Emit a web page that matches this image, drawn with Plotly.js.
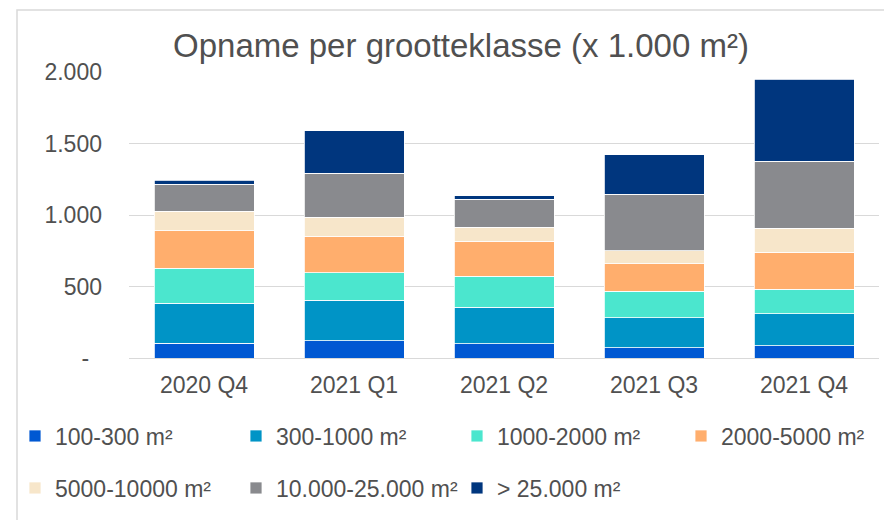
<!DOCTYPE html>
<html>
<head>
<meta charset="utf-8">
<script src="https://cdn.plot.ly/plotly-3.0.1.min.js"></script>
<style>
html,body{margin:0;padding:0;background:#fff;}
#chart{width:884px;height:520px;}
</style>
</head>
<body>
<div id="chart"></div>
<script>
var categories = ['2020 Q4', '2021 Q1', '2021 Q2', '2021 Q3', '2021 Q4'];
var seriesNames = ['100-300 m²', '300-1000 m²', '1000-2000 m²', '2000-5000 m²', '5000-10000 m²', '10.000-25.000 m²', '> 25.000 m²'];
var s100_300 = [103, 119, 98, 72, 84];
var s300_1000 = [279, 284, 256, 208, 224];
var s1000_2000 = [247, 193, 219, 186, 174];
var s2000_5000 = [261, 257, 242, 193, 259];
var s5000_10000 = [135, 130, 98, 91, 168];
var s10k_25k = [189, 310, 198, 396, 468];
var sOver25k = [28, 296, 24, 275, 571];
var yTickVals = [0, 500, 1000, 1500, 2000];
var yTickText = ['-\u00a0\u00a0', '500', '1.000', '1.500', '2.000'];

var seriesValues = [s100_300, s300_1000, s1000_2000, s2000_5000, s5000_10000, s10k_25k, sOver25k];
var colors = ['#0058D2', '#0094C6', '#4BE6CE', '#FFAE6D', '#F7E6CA', '#898A8E', '#00367E'];
var legendIds = ['legend', 'legend', 'legend', 'legend3', 'legend2', 'legend2', 'legend2'];
var font = '"Liberation Sans", Arial, sans-serif';
var textColor = '#505050';

var traces = seriesValues.map(function (vals, i) {
  return {
    type: 'bar',
    name: seriesNames[i],
    x: categories,
    y: vals,
    marker: {color: colors[i], line: {color: '#ffffff', width: 0.8}},
    legend: legendIds[i],
    hoverinfo: 'x+y+name'
  };
});

var plotL = 129, plotW = 750, plotB = 358, plotH = 286;
function px2x(p) { return (p - plotL) / plotW; }
function px2y(p) { return (plotB - p) / plotH; }

var legendCommon = {
  orientation: 'h',
  xref: 'paper', yref: 'paper',
  xanchor: 'left', yanchor: 'middle',
  font: {family: font, size: 23, color: textColor},
  itemwidth: 30,
  bgcolor: 'rgba(0,0,0,0)',
  traceorder: 'normal',
  itemclick: false, itemdoubleclick: false
};

var layout = {
  width: 884, height: 520,
  paper_bgcolor: '#ffffff', plot_bgcolor: '#ffffff',
  margin: {l: 129, r: 5, t: 72, b: 162},
  font: {family: font, color: textColor},
  title: {
    text: 'Opname per grootteklasse (x 1.000 m²)',
    font: {family: font, size: 33, color: textColor},
    x: 461 / 884, xanchor: 'center', xref: 'container',
    y: 1 - 45 / 520, yanchor: 'middle', yref: 'container'
  },
  barmode: 'stack',
  bargap: 1 / 3,
  xaxis: {
    type: 'category',
    tickfont: {family: font, size: 23, color: textColor},
    showgrid: false, zeroline: false, showline: false,
    ticks: '', ticklabelstandoff: 11
  },
  yaxis: {
    range: [0, 2000],
    tickvals: yTickVals, ticktext: yTickText,
    tickfont: {family: font, size: 23, color: textColor},
    showgrid: true, gridcolor: '#d9d9d9', gridwidth: 1,
    zeroline: true, zerolinecolor: '#d9d9d9', zerolinewidth: 1,
    showline: false, ticks: '', ticklabelstandoff: 26
  },
  legend: Object.assign({}, legendCommon, {x: px2x(15), y: px2y(436), entrywidth: 176, entrywidthmode: 'pixels'}),
  legend2: Object.assign({}, legendCommon, {x: px2x(15), y: px2y(488), entrywidth: 176, entrywidthmode: 'pixels'}),
  legend3: Object.assign({}, legendCommon, {x: px2x(15 + 3 * 222), y: px2y(436)}),
  shapes: [{
    type: 'rect', xref: 'paper', yref: 'paper',
    x0: px2x(17), x1: px2x(890),
    y0: px2y(530), y1: px2y(10),
    line: {color: '#d9d9d9', width: 1.5}, fillcolor: 'rgba(0,0,0,0)', layer: 'below'
  }]
};

Plotly.newPlot('chart', traces, layout, {displayModeBar: false, staticPlot: true});
</script>
</body>
</html>
